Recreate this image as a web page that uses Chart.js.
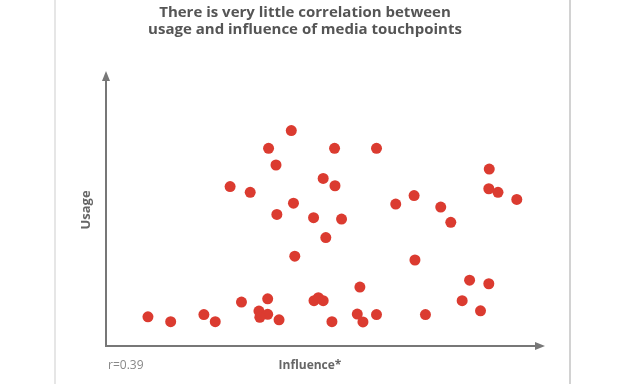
<!DOCTYPE html>
<html>
<head>
<meta charset="utf-8">
<script src="https://cdn.jsdelivr.net/npm/chart.js@4/dist/chart.umd.min.js"></script>
<style>
  html, body { margin: 0; padding: 0; background: #fff; }
  #wrap { width: 622px; height: 384px; position: relative; }
</style>
</head>
<body>
<div id="wrap"><canvas id="grafica" width="622" height="384"></canvas></div>
<script>
// Datos (escala 0-100 en ambos ejes)
const influencia = [42.4, 37.2, 52.3, 61.9, 38.9, 87.7, 49.7, 52.4, 28.4, 33.0,
                    87.6, 89.7, 94.0, 70.5, 66.3, 76.6, 42.9, 39.1, 47.5, 53.9,
                    78.9, 50.3, 43.2, 70.7, 83.2, 87.6, 58.1, 81.5, 85.7, 31.0,
                    37.0, 47.6, 48.6, 49.7, 35.0, 37.0, 35.2, 39.6, 9.6, 14.8,
                    22.4, 25.0, 51.7, 57.5, 58.8, 61.9, 73.1];
const uso = [78.9, 72.4, 72.4, 72.4, 66.3, 64.8, 61.4, 58.7, 58.4, 56.3,
             57.6, 56.3, 53.7, 55.1, 52.0, 50.9, 52.3, 48.2, 47.0, 46.5,
             45.3, 39.7, 32.9, 31.5, 24.1, 22.8, 21.6, 16.6, 12.9, 16.1,
             17.3, 16.6, 17.7, 16.6, 12.8, 11.6, 10.5, 9.6, 10.7, 8.9,
             11.5, 8.9, 8.9, 11.7, 8.8, 11.5, 11.5];
const tituloLineas = ["There is very little correlation between", "usage and influence of media touchpoints"];
const etiquetaX = "Influence*";
const etiquetaY = "Usage";
const etiquetaR = "r=0.39";

const puntos = influencia.map((x, i) => ({ x: x, y: uso[i] }));

// Titulo, ejes con flechas, lineas de borde y textos
const ejesPlugin = {
    id: 'ejes',
    beforeDraw(chart) {
        const ctx = chart.ctx;
        ctx.save();
        ctx.fillStyle = '#fff';
        ctx.fillRect(0, 0, chart.width, chart.height);
        ctx.fillStyle = '#e6e6e6';
        ctx.fillRect(54, 0, 2, chart.height);
        ctx.fillStyle = '#d2d2d2';
        ctx.fillRect(569, 0, 2, chart.height);

        ctx.fillStyle = '#555';
        ctx.font = 'bold 15px "Open Sans"';
        ctx.textAlign = 'center';
        ctx.textBaseline = 'middle';
        ctx.fillText(tituloLineas[0], 305, 13);
        ctx.fillText(tituloLineas[1], 305, 30);
        ctx.restore();
    },
    afterDraw(chart) {
        const ctx = chart.ctx;
        const a = chart.chartArea;
        ctx.save();
        ctx.strokeStyle = '#777';
        ctx.fillStyle = '#777';
        ctx.lineWidth = 2;
        ctx.beginPath();
        ctx.moveTo(a.left, a.top + 6);
        ctx.lineTo(a.left, a.bottom);
        ctx.lineTo(a.right - 6, a.bottom);
        ctx.stroke();
        // flecha arriba
        ctx.beginPath();
        ctx.moveTo(a.left, a.top - 2);
        ctx.lineTo(a.left - 4, a.top + 8);
        ctx.lineTo(a.left + 4, a.top + 8);
        ctx.closePath();
        ctx.fill();
        // flecha derecha
        ctx.beginPath();
        ctx.moveTo(a.right + 2, a.bottom);
        ctx.lineTo(a.right - 8, a.bottom - 4);
        ctx.lineTo(a.right - 8, a.bottom + 4);
        ctx.closePath();
        ctx.fill();

        ctx.fillStyle = '#666';
        ctx.font = 'bold 12px "Open Sans"';
        ctx.textAlign = 'center';
        ctx.textBaseline = 'middle';
        ctx.fillText(etiquetaX, 310, 366);
        ctx.save();
        ctx.translate(86, 210);
        ctx.rotate(-Math.PI / 2);
        ctx.font = 'bold 13px "Open Sans"';
        ctx.fillText(etiquetaY, 0, 0);
        ctx.restore();

        ctx.fillStyle = '#888';
        ctx.font = '12px "Open Sans"';
        ctx.textAlign = 'left';
        ctx.fillText(etiquetaR, 108, 366);
        ctx.restore();
    }
};

new Chart(document.getElementById("grafica").getContext("2d"), {
    type: 'scatter',
    data: {
        datasets: [{
            label: 'Media touchpoints',
            data: puntos,
            backgroundColor: '#db3b30',
            borderColor: '#db3b30',
            borderWidth: 0,
            pointRadius: 5.5
        }]
    },
    options: {
        responsive: false,
        animation: false,
        layout: {
            padding: { left: 106, right: 79, top: 73, bottom: 38 }
        },
        scales: {
            x: { display: false, min: 0, max: 100 },
            y: { display: false, min: 0, max: 100 }
        },
        plugins: {
            legend: { display: false },
            tooltip: { enabled: false },
            title: { display: false }
        }
    },
    plugins: [ejesPlugin]
});
</script>
</body>
</html>
